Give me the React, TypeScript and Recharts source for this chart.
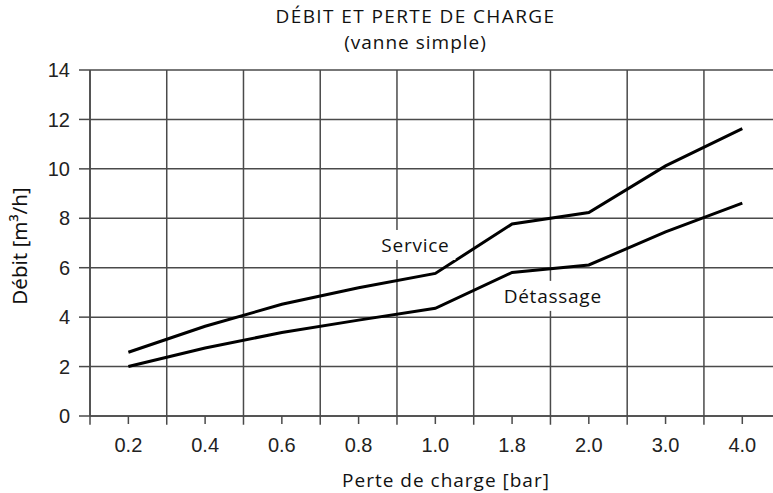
import React from "react";
import {
  LineChart,
  Line,
  XAxis,
  YAxis,
  CartesianGrid,
  ReferenceLine,
  ReferenceDot,
} from "recharts";

const categories = ["0.2", "0.4", "0.6", "0.8", "1.0", "1.8", "2.0", "3.0", "4.0"];
const serviceValues = [2.58, 3.63, 4.52, 5.19, 5.77, 7.77, 8.23, 10.12, 11.63];
const detassageValues = [2.0, 2.75, 3.38, 3.88, 4.36, 5.81, 6.11, 7.45, 8.61];
const yTicks = [0, 2, 4, 6, 8, 10, 12, 14];

const data = categories.map((c, i) => ({
  idx: i,
  cat: c,
  service: serviceValues[i],
  detassage: detassageValues[i],
}));

const boundaries = categories.map((_, i) => i - 0.5);

const GRID = "#4a4a4a";
const LABEL_FONT = "'Open Sans', 'Noto Sans', sans-serif";
const TICK_FONT = "'Liberation Sans', Arial, sans-serif";

const makeLabel = (text: string, w: number) => (props: any) => {
  const { cx, cy } = props;
  return (
    <g>
      <rect x={cx - w / 2} y={cy - 15} width={w} height={30} fill="#fff" />
      <text
        x={cx}
        y={cy}
        textAnchor="middle"
        dominantBaseline="central"
        fontFamily={LABEL_FONT}
        fontSize={19}
        letterSpacing={0.75}
        fill="#111"
      >
        {text}
      </text>
    </g>
  );
};

export default function App() {
  return (
    <div style={{ position: "absolute", left: 0, top: 0, width: 773, height: 493, background: "#fff" }}>
      <LineChart
        width={773}
        height={493}
        data={data}
        margin={{ top: 70, right: 0, bottom: 37, left: 10 }}
      >
        <CartesianGrid vertical={false} stroke={GRID} strokeWidth={1.5} strokeDasharray="" />
        {boundaries.map((b) => (
          <ReferenceLine
            key={b}
            segment={[
              { x: b, y: -0.35 },
              { x: b, y: 14 },
            ]}
            stroke={GRID}
            strokeWidth={1.5}
            ifOverflow="visible"
          />
        ))}
        <XAxis
          dataKey="idx"
          type="number"
          domain={[-0.5, 8.4]}
          ticks={categories.map((_, i) => i)}
          tickFormatter={(v: number) => categories[v]}
          allowDataOverflow
          height={40}
          tickSize={8}
          tickMargin={14}
          stroke={GRID}
          strokeWidth={1.5}
          tick={{ fill: "#222", fontSize: 20, fontFamily: TICK_FONT }}
        />
        <YAxis
          type="number"
          domain={[0, 14]}
          ticks={yTicks}
          width={80}
          tickSize={11}
          tickMargin={9}
          stroke={GRID}
          strokeWidth={1.5}
          tick={{ fill: "#222", fontSize: 20, fontFamily: TICK_FONT }}
        />
        <Line
          type="linear"
          dataKey="service"
          stroke="#000"
          strokeWidth={3}
          dot={false}
          isAnimationActive={false}
        />
        <Line
          type="linear"
          dataKey="detassage"
          stroke="#000"
          strokeWidth={3}
          dot={false}
          isAnimationActive={false}
        />
        <ReferenceDot x={3.74} y={6.92} r={0} shape={makeLabel("Service", 80)} ifOverflow="visible" />
        <ReferenceDot x={5.53} y={4.86} r={0} shape={makeLabel("Détassage", 104)} ifOverflow="visible" />
      </LineChart>
      <svg
        width={773}
        height={493}
        style={{ position: "absolute", left: 0, top: 0, pointerEvents: "none" }}
      >
        <text x={415.5} y={23} textAnchor="middle" fontFamily={LABEL_FONT} fontSize={19} letterSpacing={1.4} fill="#111">
          DÉBIT ET PERTE DE CHARGE
        </text>
        <text x={415.5} y={49} textAnchor="middle" fontFamily={LABEL_FONT} fontSize={19} letterSpacing={1} fill="#111">
          (vanne simple)
        </text>
        <text x={446} y={487} textAnchor="middle" fontFamily={LABEL_FONT} fontSize={19} letterSpacing={1} fill="#111">
          Perte de charge [bar]
        </text>
        <text
          x={0}
          y={0}
          transform="translate(27 246) rotate(-90)"
          textAnchor="middle"
          fontFamily="'Noto Sans', sans-serif"
          fontSize={20.5}
          fill="#111"
        >
          Débit [m³/h]
        </text>
      </svg>
    </div>
  );
}
